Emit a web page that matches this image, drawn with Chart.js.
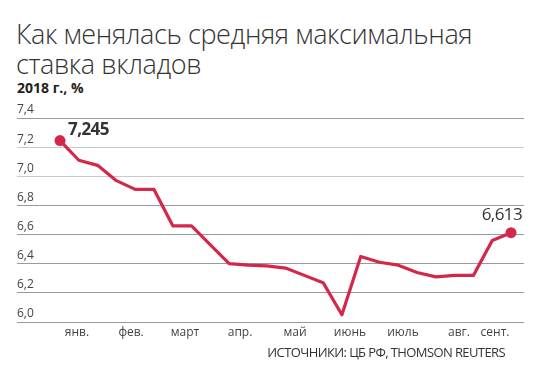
<!DOCTYPE html>
<html>
<head>
<meta charset="utf-8">
<script src="https://cdn.jsdelivr.net/npm/chart.js@4.4.1/dist/chart.umd.min.js"></script>
<style>
  html, body { margin: 0; padding: 0; background: #fff; }
  #wrap { position: relative; width: 540px; height: 370px; overflow: hidden; }
  #title {
    position: absolute; left: 16px; top: 19px;
    font-family: "Open Sans", sans-serif; font-weight: 300;
    font-size: 27px; line-height: 30px; color: #333; letter-spacing: -0.4px;
  }
  #sub {
    position: absolute; left: 17px; top: 78px;
    font-family: "Open Sans", sans-serif; font-weight: 700;
    font-size: 14px; color: #222; letter-spacing: 0;
  }
  #src {
    position: absolute; right: 35px; top: 343px;
    font-family: "Open Sans", sans-serif; font-weight: 400;
    font-size: 13px; color: #333; letter-spacing: -0.6px;
  }
  canvas { position: absolute; left: 0; top: 0; }
</style>
</head>
<body>
<div id="wrap">
  <div id="title">Как менялась средняя максимальная<br>ставка вкладов</div>
  <div id="sub">2018 г., %</div>
  <canvas id="chart" width="540" height="370"></canvas>
  <div id="src">ИСТОЧНИКИ: ЦБ РФ, THOMSON REUTERS</div>
</div>
<script>
// ══════════════════════════════════════════
// DATA (max deposit rate by ten-day period, Jan I → Sep I)
// ══════════════════════════════════════════
const rates = [
  7.245, 7.11, 7.075, 6.97, 6.91, 6.91, 6.66, 6.66, 6.53, 6.4, 6.39, 6.385,
  6.37, 6.32, 6.27, 6.05, 6.45, 6.41, 6.39, 6.34, 6.31, 6.32, 6.32, 6.56, 6.613,
];
const monthLabels = ["янв.", "фев.", "март", "апр.", "май", "июнь", "июль", "авг.", "сент."];
const monthTickAt = [0.9, 3.78, 6.65, 9.58, 12.51, 15.43, 18.25, 21.23, 23.15];
const yTicks = [6.0, 6.2, 6.4, 6.6, 6.8, 7.0, 7.2, 7.4];

const RED = "#d4284a";
const fmt = (v, d) => v.toFixed(d).replace(".", ",");

// labels for first / last point
const endLabels = {
  id: "endLabels",
  afterDatasetsDraw(chart) {
    const pts = chart.getDatasetMeta(0).data;
    const c = chart.ctx;
    const first = pts[0];
    const last = pts[pts.length - 1];
    c.save();
    c.fillStyle = "#333";
    c.textBaseline = "middle";
    c.letterSpacing = "-0.6px";
    c.font = "bold 17px 'Open Sans', sans-serif";
    c.textAlign = "left";
    c.fillText(fmt(rates[0], 3), first.x + 8, first.y - 10);
    c.font = "17px 'Open Sans', sans-serif";
    c.textAlign = "right";
    c.fillText(fmt(rates[rates.length - 1], 3), last.x + 11, last.y - 18);
    c.restore();
  },
};

const ctx = document.getElementById("chart").getContext("2d");
new Chart(ctx, {
  type: "line",
  data: {
    datasets: [
      {
        data: rates.map((v, i) => ({ x: i, y: v })),
        borderColor: RED,
        backgroundColor: RED,
        borderWidth: 3.2,
        borderJoinStyle: "round",
        tension: 0,
        pointRadius: (c) => (c.dataIndex === 0 || c.dataIndex === rates.length - 1 ? 5.5 : 0),
        pointBackgroundColor: RED,
        pointBorderWidth: 0,
      },
    ],
  },
  options: {
    responsive: false,
    animation: false,
    layout: { padding: { left: 17, right: 16, top: 118, bottom: 28 } },
    plugins: { legend: { display: false }, tooltip: { enabled: false } },
    scales: {
      x: {
        type: "linear",
        min: -2.29,
        max: 24.69,
        afterBuildTicks: (s) => {
          s.ticks = monthTickAt.map((v) => ({ value: v }));
        },
        afterFit: (s) => { s.height = 20; },
        grid: { display: false, drawTicks: false },
        border: { display: false },
        ticks: {
          autoSkip: false,
          maxRotation: 0,
          padding: 3,
          color: "#444",
          font: { family: "'Open Sans', sans-serif", size: 12 },
          callback: (v, i) => monthLabels[i],
        },
      },
      y: {
        min: 6.0,
        max: 7.4,
        afterBuildTicks: (s) => {
          s.ticks = yTicks.map((v) => ({ value: v }));
        },
        afterFit: (s) => { s.width = 0; },
        border: { display: false },
        grid: {
          drawTicks: false,
          lineWidth: 1,
          color: (c) => {
            const v = c.tick ? Math.round(c.tick.value * 10) / 10 : 0;
            return v === 7.2 || v === 7.0 ? "#c9c9c9" : "#9a9a9a";
          },
        },
        ticks: {
          mirror: true,
          padding: 0,
          labelOffset: -8,
          color: "#444",
          font: { family: "'Open Sans', sans-serif", size: 12 },
          callback: (v) => fmt(v, 1),
        },
      },
    },
  },
  plugins: [endLabels],
});
</script>
</body>
</html>
